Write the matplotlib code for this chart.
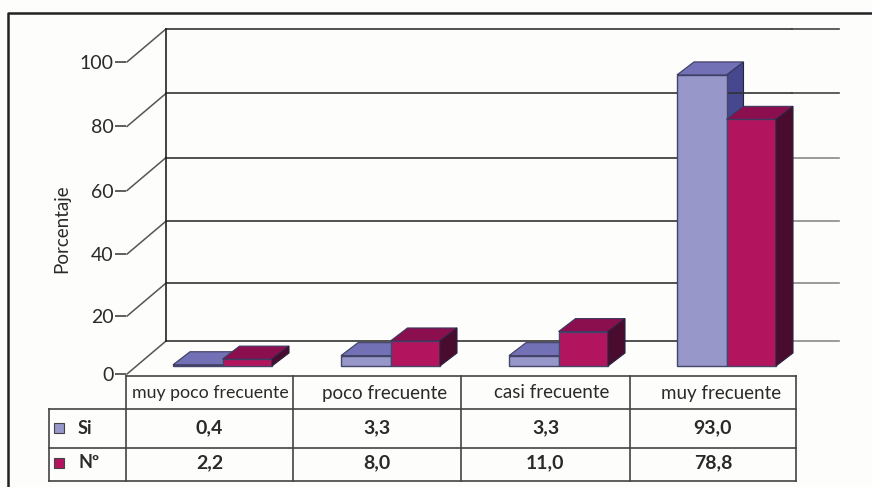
#!/usr/bin/env python3
"""Porcentaje por frecuencia: pseudo 3D bars with a data table underneath"""
import matplotlib
matplotlib.use('Agg')
import matplotlib.pyplot as plt
from matplotlib.patches import Rectangle
from matplotlib.transforms import Affine2D

categories = ['muy poco frecuente', 'poco frecuente', 'casi frecuente', 'muy frecuente']
si_values = [0.4, 3.3, 3.3, 93.0]
no_values = [2.2, 8.0, 11.0, 78.8]
si_labels = ['0,4', '3,3', '3,3', '93,0']
no_labels = ['2,2', '8,0', '11,0', '78,8']
y_labels = ['0', '20', '40', '60', '80', '100']
# the printed axis is not quite even, these are where its ticks sit against the bars
y_ticks = [0, 18.5, 38.3, 58.6, 79.1, 99.7]

W, H = 872, 487
PX_X = 168.0   # pixels per category
PX_Y = 3.13    # pixels per percent
X0, Y0 = 222.5, 374.0  # pixel of category 0 / value 0 on the front plane

plt.rcParams['font.family'] = ['Lato', 'DejaVu Sans']
INK = '#2a2a2a'

fig = plt.figure(figsize=(W / 100, H / 100), dpi=100, facecolor='#fdfdfc')
ax = fig.add_axes([0, 0, 1, 1])
ax.set_xlim(-X0 / PX_X, (W - X0) / PX_X)
ax.set_ylim((Y0 - H) / PX_Y, Y0 / PX_Y)
ax.patch.set_visible(False)

# layout things (frame, table) are placed in image pixels
px = Affine2D().scale(1, -1).translate(0, H)


def data_x(p):
    return (p - X0) / PX_X


# depth of the wall and of the bars, in data units
wall_dx, wall_dy = 39 / PX_X, 33 / PX_Y
bar_dx, bar_dy = 17 / PX_X, 13 / PX_Y
lift = 8 / PX_Y
bar_w = 49.5 / PX_X

# y axis on the front plane
for name in ['top', 'right', 'bottom']:
    ax.spines[name].set_visible(False)
ax.spines['left'].set_color('none')
ax.spines['left'].set_position(('data', data_x(126)))
ax.set_xticks([])
ax.set_yticks(y_ticks, y_labels)
ax.tick_params(axis='y', length=8, width=1.2, color='#444444', pad=1,
               labelsize=14, labelcolor=INK)

# back wall, grid lines and the little diagonals
front_x = data_x(127)
back_x = front_x + wall_dx
right_x = data_x(839)
bar_end = data_x(792)
for v in y_ticks:
    ax.plot([front_x, back_x], [v, v + wall_dy], color='#555555', lw=1.1, zorder=1)
    ax.plot([back_x, bar_end], [v + wall_dy, v + wall_dy], color='#333333', lw=1.2, zorder=2)
    end_col = '#444444' if v >= 79 else '#8a8a8a'
    ax.plot([bar_end, right_x], [v + wall_dy, v + wall_dy], color=end_col, lw=1.2, zorder=2)
ax.plot([back_x, back_x], [wall_dy, y_ticks[-1] + wall_dy], color='#222222', lw=1.2, zorder=2)


def draw_bar(x, v, front, top, side, z_side, z_front):
    """One box: front face plus top and side parallelograms"""
    left, right = x - bar_w / 2, x + bar_w / 2
    high = v + lift
    ax.bar(x, v, width=bar_w, bottom=lift, color=front, edgecolor='#45456a', lw=1, zorder=z_front)
    ax.fill([left, right, right + bar_dx, left + bar_dx],
            [high, high, high + bar_dy, high + bar_dy],
            facecolor=top, edgecolor='#3c3960', lw=0.8, zorder=z_front)
    ax.fill([right, right + bar_dx, right + bar_dx, right],
            [lift, lift + bar_dy, high + bar_dy, high],
            facecolor=side, edgecolor='#2a2340', lw=0.8, zorder=z_side)


for i in range(len(categories)):
    draw_bar(i - bar_w / 2, si_values[i], '#9797ca', '#7371b6', '#45488f', 1.5, 3)
    draw_bar(i + bar_w / 2, no_values[i], '#b2155e', '#8b0f4e', '#4a0c2e', 4, 4)

ax.text(62, 229, 'Porcentaje', transform=px, rotation=90, ha='center', va='center',
        fontsize=13.5, color=INK)

# outer frame, only top and left show in the scan
ax.plot([8, 8, W], [H, 13, 13], transform=px, color='#222222', lw=1.8, clip_on=False)

# table under the chart
col_edges = [126, 293, 461, 630, 796]
row_edges = [376, 409, 448, 481]
header_x = [210, 385, 552, 721]
header_size = [12.8, 13.5, 13.5, 13.5]
legend_x = 49
line = dict(transform=px, color='#444444', lw=1.2, zorder=5)
ax.plot([col_edges[0], col_edges[-1]], [row_edges[0]] * 2, **line)
for y in row_edges[1:]:
    ax.plot([legend_x, col_edges[-1]], [y, y], **line)
for x in col_edges:
    ax.plot([x, x], [row_edges[0], row_edges[-1]], **line)
ax.plot([legend_x, legend_x], [row_edges[1], row_edges[-1]], **line)

for j in range(len(categories)):
    cx = (col_edges[j] + col_edges[j + 1]) / 2
    ax.text(header_x[j], 393, categories[j], transform=px, ha='center', va='center',
            fontsize=header_size[j], color=INK)
    ax.text(cx, 428, si_labels[j], transform=px, ha='center', va='center',
            fontsize=14, fontweight='bold', color=INK)
    ax.text(cx, 463, no_labels[j], transform=px, ha='center', va='center',
            fontsize=14, fontweight='bold', color=INK)

for label, y, col in [('Si', 428, '#9797ca'), ('Nº', 463, '#b2155e')]:
    ax.add_patch(Rectangle((54, y - 5), 10, 10, transform=px, facecolor=col,
                           edgecolor='#444444', lw=0.8, zorder=5))
    ax.text(78, y, label, transform=px, ha='left', va='center',
            fontsize=13, fontweight='bold', color=INK)

fig.savefig('out.png', dpi=100, facecolor=fig.get_facecolor())
